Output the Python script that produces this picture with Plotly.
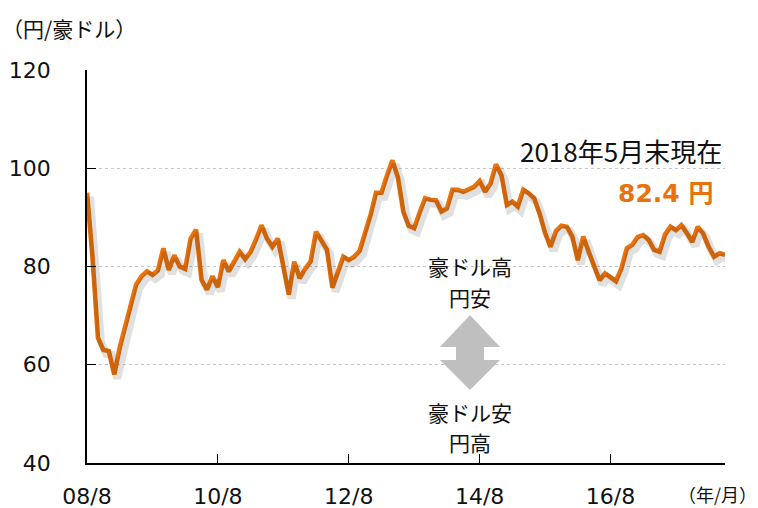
import plotly.graph_objects as go

# monthly AUD/JPY, 2008/8 .. 2018/5 (118 months)
rate = [
    95.0, 82.0, 65.5, 63.0, 62.8,                                         # 2008/8-12
    58.0, 63.5, 67.5, 72.0, 76.3, 78.0, 79.0, 78.3, 79.2, 83.7, 79.3, 82.3,  # 2009
    80.0, 79.5, 85.7, 87.5, 77.3, 75.3, 78.0, 75.8, 81.3, 79.0, 81.0, 83.0,  # 2010
    81.5, 83.0, 85.5, 88.4, 85.7, 84.0, 85.7, 80.5, 74.3, 81.0, 77.6, 79.5,  # 2011
    81.0, 87.1, 85.0, 83.4, 75.7, 79.0, 82.0, 81.3, 82.0, 83.2, 86.8, 90.5,  # 2012
    95.0, 95.0, 98.5, 101.6, 98.2, 91.2, 88.3, 87.8, 91.0, 93.9, 93.6, 93.5,  # 2013
    91.2, 91.8, 95.6, 95.6, 95.2, 95.7, 96.2, 97.4, 95.2, 96.9, 100.8, 98.6,  # 2014
    92.5, 93.2, 92.2, 95.6, 94.9, 93.9, 90.8, 86.8, 84.0, 87.2, 88.3, 88.1,  # 2015
    86.1, 81.3, 86.1, 83.0, 80.0, 77.2, 78.6, 77.8, 77.0, 79.6, 83.7, 84.4,  # 2016
    86.0, 86.4, 85.4, 83.4, 83.0, 86.5, 88.1, 87.4, 88.4, 86.8, 85.0, 88.1,  # 2017
    86.7, 84.0, 82.0, 82.7, 82.4,                                          # 2018/1-5
]
months = list(range(len(rate)))
tick_vals = [0, 24, 48, 72, 96]
tick_text = ["08/8", "10/8", "12/8", "14/8", "16/8"]
y_ticks = [40, 60, 80, 100, 120]

ORANGE = "#E8720C"
W, H = 758, 508
L, R, T, B = 87, 33, 70, 45
pw, ph = W - L - R, H - T - B

def px(x, y):
    """pixel position -> paper coords"""
    return (x - L) / pw, (H - B - y) / ph

x_lo, x_hi = 0, len(rate) - 1
y_lo, y_hi = 40, 120
# shadow shift: 3 px right, 4 px down, expressed through shifted axis ranges
dx = 3 * (x_hi - x_lo) / pw
dy = 4 * (y_hi - y_lo) / ph

fig = go.Figure()
fig.add_trace(go.Scatter(x=months, y=rate, mode="lines", xaxis="x2", yaxis="y2",
                         line=dict(color="rgba(0,0,0,0.12)", width=8),
                         hoverinfo="skip", showlegend=False))
fig.add_trace(go.Scatter(x=months, y=rate, mode="lines",
                         line=dict(color=ORANGE, width=4.6),
                         showlegend=False))

fig.update_layout(
    width=W, height=H,
    margin=dict(l=L, r=R, t=T, b=B, autoexpand=False),
    paper_bgcolor="white", plot_bgcolor="rgba(0,0,0,0)",
    font=dict(family="DejaVu Sans, Verdana, sans-serif", size=22, color="#111"),
    xaxis=dict(range=[x_lo, x_hi], tickvals=tick_vals, ticktext=tick_text,
               showgrid=False, zeroline=False, showline=True, linecolor="black",
               linewidth=1.5, ticks="inside", ticklen=9, tickwidth=1.2, tickcolor="black",
               ticklabelstandoff=13, automargin=False),
    yaxis=dict(range=[y_lo, y_hi], tickvals=y_ticks, showgrid=True,
               gridcolor="#C8C8C8", griddash="dot", gridwidth=1,
               zeroline=False, showline=True, linecolor="black", linewidth=1.5,
               ticks="inside", ticklen=9, tickwidth=1.2, tickcolor="black",
               ticklabelstandoff=30, automargin=False),
    xaxis2=dict(range=[x_lo - dx, x_hi - dx], overlaying="x", visible=False, anchor="y2"),
    yaxis2=dict(range=[y_lo + dy, y_hi + dy], overlaying="y", visible=False, anchor="x2"),
)

JP = "Noto Sans CJK JP, sans-serif"

def add_text(text, x, y, size, color="#111", family=JP, xanchor="center"):
    ax, ay = px(x, y)
    fig.add_annotation(text=text, x=ax, y=ay, xref="paper", yref="paper",
                       showarrow=False, xanchor=xanchor, yanchor="middle",
                       font=dict(size=size, color=color, family=family))

add_text("（円/豪ドル）", 69, 28, 21)
add_text("（年/月）", 717, 494, 18)
add_text("2018年5月末現在", 621, 150, 26)
add_text("<b>82.4 円</b>", 665, 193, 25, color=ORANGE,
         family="DejaVu Sans, Noto Sans CJK JP, sans-serif")
add_text("豪ドル高", 470, 266, 21)
add_text("円安", 470, 297, 21)
add_text("豪ドル安", 470, 412, 21)
add_text("円高", 470, 442, 21)

# grey double arrow
cx = 470
pts = [(cx, 315), (cx + 30, 347), (cx + 14, 347), (cx + 14, 360), (cx + 30, 360),
       (cx, 390), (cx - 30, 360), (cx - 14, 360), (cx - 14, 347), (cx - 30, 347)]
path = "M " + " L ".join(f"{px(a, b)[0]:.5f},{px(a, b)[1]:.5f}" for a, b in pts) + " Z"
fig.add_shape(type="path", path=path, xref="paper", yref="paper",
              fillcolor="#BFBFBF", line=dict(width=0), layer="above")

fig.write_html("out.html", config={"displayModeBar": False},
               post_script="document.body.style.margin='0';")
